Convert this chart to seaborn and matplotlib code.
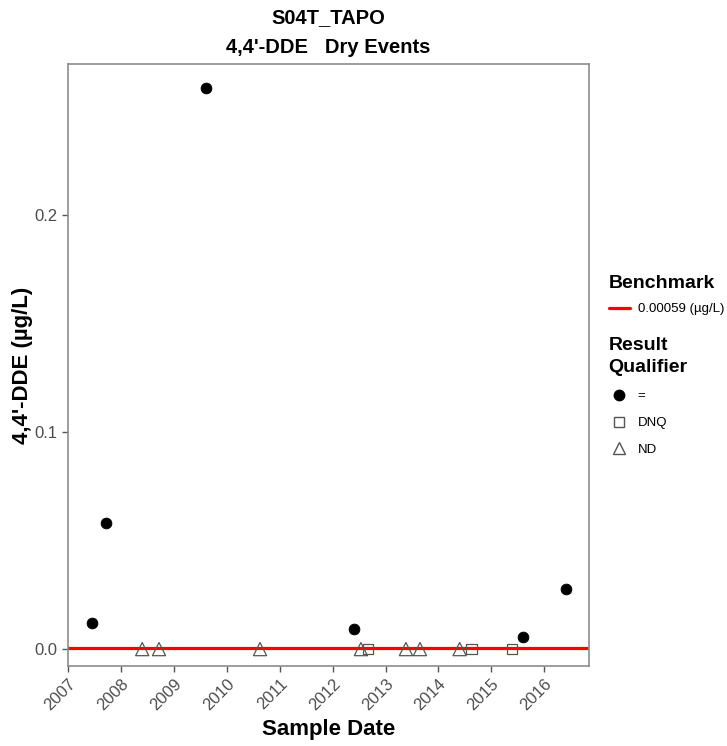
import pandas as pd
import matplotlib
matplotlib.use('Agg')
import matplotlib.pyplot as plt
import matplotlib.dates as mdates
from matplotlib.lines import Line2D
import seaborn as sns

# ---- datos ----
fechas = ['2007-06-11', '2007-09-16', '2009-08-07', '2012-05-28', '2015-08-11', '2016-05-30',
          '2008-05-26', '2008-09-19', '2010-08-18', '2012-07-15', '2013-05-22', '2013-08-27', '2014-05-28',
          '2012-08-31', '2014-08-19', '2015-05-23']
valores = [0.0118, 0.0582, 0.2584, 0.0091, 0.0057, 0.0275,
           0, 0, 0, 0, 0, 0, 0,
           0, 0, 0]
calificador = ['=', '=', '=', '=', '=', '=',
               'ND', 'ND', 'ND', 'ND', 'ND', 'ND', 'ND',
               'DNQ', 'DNQ', 'DNQ']
benchmark = 0.00059
benchmark_label = '0.00059 (µg/L)'

df = pd.DataFrame({'fecha': pd.to_datetime(fechas), 'valor': valores, 'qual': calificador})

sns.set_style('white')
plt.rcParams['font.family'] = ['Liberation Sans', 'DejaVu Sans']
plt.rcParams['text.color'] = 'black'

fig = plt.figure(figsize=(7.27, 7.46), dpi=100)
ax = fig.add_axes([0.0931, 0.1072, 0.7167, 0.807])

ax.axhline(benchmark, color='red', lw=2.3, zorder=1)

estilos = {
    '=': dict(marker='o', color='black', edgecolor='black', s=60),
    'DNQ': dict(marker='s', facecolor='none', edgecolor='#555555', s=55, linewidth=0.9),
    'ND': dict(marker='^', facecolor='none', edgecolor='#555555', s=90, linewidth=0.9),
}
for q in ['ND', 'DNQ', '=']:
    sub = df[df['qual'] == q]
    sns.scatterplot(data=sub, x='fecha', y='valor', ax=ax, zorder=3, **estilos[q])

ax.set_xlim(pd.Timestamp('2006-12-28'), pd.Timestamp('2016-11-05'))
ax.set_ylim(-0.0078, 0.2696)
ax.set_yticks([0.0, 0.1, 0.2])
ax.set_yticklabels(['0.0', '0.1', '0.2'])
ax.xaxis.set_major_locator(mdates.YearLocator())
ax.xaxis.set_major_formatter(mdates.DateFormatter('%Y'))
plt.setp(ax.get_xticklabels(), rotation=45, ha='right', rotation_mode='anchor')

ax.tick_params(axis='both', colors='#555555', labelcolor='#4d4d4d', labelsize=12,
               length=4, width=1, direction='out', bottom=True, left=True)
for sp in ax.spines.values():
    sp.set_color('#8c8c8c')
    sp.set_linewidth(1.2)

ax.set_xlabel('Sample Date', fontsize=16, fontweight='bold', labelpad=4, color='black')
ax.set_ylabel("4,4'-DDE (µg/L)", fontsize=16, fontweight='bold', labelpad=1, color='black')
ax.set_title("S04T_TAPO\n4,4'-DDE   Dry Events", fontsize=14.5, fontweight='bold',
             linespacing=1.75, pad=8, color='black')

# leyendas
h_bench = [Line2D([0], [0], color='red', lw=2.3)]
leg1 = fig.legend(h_bench, [benchmark_label], title='Benchmark', loc='upper left',
                  bbox_to_anchor=(0.83, 0.638), frameon=False, fontsize=9.5,
                  title_fontproperties={'weight': 'bold', 'size': 14},
                  handlelength=1.6, handletextpad=0.6, labelspacing=0.8, borderaxespad=0)
leg1._legend_box.align = 'left'

h_qual = [Line2D([0], [0], marker='o', color='black', ls='none', markersize=7.5),
          Line2D([0], [0], marker='s', markerfacecolor='none', markeredgecolor='#555555',
                 ls='none', markersize=7.5),
          Line2D([0], [0], marker='^', markerfacecolor='none', markeredgecolor='#555555',
                 ls='none', markersize=9)]
leg2 = fig.legend(h_qual, ['=', 'DNQ', 'ND'], title='Result\nQualifier', loc='upper left',
                  bbox_to_anchor=(0.83, 0.555), frameon=False, fontsize=9.5,
                  title_fontproperties={'weight': 'bold', 'size': 14},
                  handlelength=1.6, handletextpad=0.6, labelspacing=1.1, borderaxespad=0)
leg2._legend_box.align = 'left'
leg2.get_title().set_linespacing(1.35)

fig.savefig('out.png', dpi=100)
